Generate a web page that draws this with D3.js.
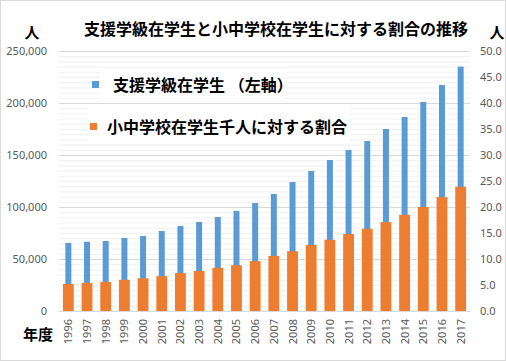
<!DOCTYPE html>
<html>
<head>
<meta charset="utf-8">
<script src="https://cdn.jsdelivr.net/npm/d3@7"></script>
<style>
  body { margin: 0; background: #fff; }
  svg { display: block; }
  .jp { font-family: "Noto Sans CJK JP", "Noto Sans", sans-serif; font-weight: bold; fill: #000; }
  .tick-label { font-family: "Noto Sans", "Liberation Sans", sans-serif; font-size: 11px; fill: #595959; }
</style>
</head>
<body>
<svg width="506" height="361"></svg>
<script>
// データ
const years = ["1996", "1997", "1998", "1999", "2000", "2001", "2002", "2003", "2004", "2005",
  "2006", "2007", "2008", "2009", "2010", "2011", "2012", "2013", "2014", "2015", "2016", "2017"];
// 支援学級在学生（人）
const students = [65400, 66600, 67300, 70200, 72100, 76900, 81700, 85600, 90400, 96200,
  103800, 112500, 124000, 134600, 145200, 154800, 163500, 175000, 186500, 201000, 217300, 235000];
// 小中学校在学生千人に対する割合
const ratio = [5.2, 5.4, 5.6, 6.0, 6.3, 6.7, 7.3, 7.7, 8.3, 8.8,
  9.6, 10.6, 11.5, 12.7, 13.7, 14.8, 15.8, 17.1, 18.5, 20.0, 21.9, 23.9];
const leftTicks = [0, 50000, 100000, 150000, 200000, 250000];
const rightTicks = [0, 5, 10, 15, 20, 25, 30, 35, 40, 45, 50];
const legendLabels = ["支援学級在学生 （左軸）", "小中学校在学生千人に対する割合"];

const svg = d3.select("svg");
const plotLeft = 59, plotRight = 470, plotTop = 51, plotBottom = 311;
const blue = "#5b9bd5", orange = "#ed7d31";

const x = d3.scaleBand().domain(years).range([plotLeft, plotRight]).paddingInner(0.42).paddingOuter(0.21);
const yL = d3.scaleLinear().domain([0, 250000]).range([plotBottom, plotTop]);
const yR = d3.scaleLinear().domain([0, 50]).range([plotBottom, plotTop]);

// 枠
svg.append("rect")
  .attr("x", 0.5).attr("y", 0.5).attr("width", 505).attr("height", 360)
  .attr("fill", "#fff").attr("stroke", "#d9d9d9");

// 補助目盛線
svg.append("g")
  .selectAll("line")
  .data(d3.range(0, 250001, 5000).filter((v) => v % 50000 !== 0))
  .join("line")
  .attr("x1", plotLeft).attr("x2", plotRight)
  .attr("y1", (d) => yL(d) + 0.5).attr("y2", (d) => yL(d) + 0.5)
  .attr("stroke", "#f0f0f0");

// 凡例の背景
svg.append("rect").attr("x", 100).attr("y", 68).attr("width", 186).attr("height", 33).attr("fill", "#fff");
svg.append("rect").attr("x", 88).attr("y", 107).attr("width", 262).attr("height", 35).attr("fill", "#fff");

// 主目盛線
svg.append("g")
  .selectAll("line")
  .data(leftTicks)
  .join("line")
  .attr("x1", plotLeft).attr("x2", plotRight)
  .attr("y1", (d) => yL(d) + 0.5).attr("y2", (d) => yL(d) + 0.5)
  .attr("stroke", "#d9d9d9");

// 棒グラフ
const bw = 6;
svg.append("g")
  .selectAll("rect")
  .data(years)
  .join("rect")
  .attr("x", (d) => x(d) + x.bandwidth() / 2 - bw / 2)
  .attr("y", (d, i) => yL(students[i]))
  .attr("width", bw)
  .attr("height", (d, i) => plotBottom - yL(students[i]))
  .attr("fill", blue);

svg.append("g")
  .selectAll("rect")
  .data(years)
  .join("rect")
  .attr("x", (d) => x(d))
  .attr("y", (d, i) => yR(ratio[i]))
  .attr("width", x.bandwidth())
  .attr("height", (d, i) => plotBottom - yR(ratio[i]))
  .attr("fill", orange);

// 軸ラベル
svg.append("g")
  .selectAll("text")
  .data(leftTicks)
  .join("text")
  .attr("class", "tick-label")
  .attr("x", 47).attr("y", (d) => yL(d)).attr("dy", "0.35em")
  .attr("text-anchor", "end")
  .text(d3.format(","));

svg.append("g")
  .selectAll("text")
  .data(rightTicks)
  .join("text")
  .attr("class", "tick-label")
  .attr("x", 480).attr("y", (d) => yR(d)).attr("dy", "0.35em")
  .text(d3.format(".1f"));

svg.append("g")
  .selectAll("text")
  .data(years)
  .join("text")
  .attr("class", "tick-label")
  .attr("text-anchor", "end")
  .attr("transform", (d) => `translate(${x(d) + x.bandwidth() / 2 + 4},319) rotate(-90)`)
  .text((d) => d);

// タイトル等
svg.append("text").attr("class", "jp").attr("x", 276).attr("y", 35)
  .attr("text-anchor", "middle").style("font-size", "16px")
  .text("支援学級在学生と小中学校在学生に対する割合の推移");
svg.append("text").attr("class", "jp").attr("x", 32).attr("y", 38)
  .attr("text-anchor", "middle").style("font-size", "15px").text("人");
svg.append("text").attr("class", "jp").attr("x", 497).attr("y", 38)
  .attr("text-anchor", "middle").style("font-size", "15px").text("人");
svg.append("text").attr("class", "jp").attr("x", 38).attr("y", 340)
  .attr("text-anchor", "middle").style("font-size", "15px").text("年度");

// 凡例
const legend = svg.append("g");
[
  { sx: 92, sy: 81, tx: 113, ty: 91, color: blue },
  { sx: 90, sy: 123, tx: 107, ty: 133, color: orange },
].forEach((p, i) => {
  legend.append("rect").attr("x", p.sx).attr("y", p.sy).attr("width", 7).attr("height", 7).attr("fill", p.color);
  legend.append("text").attr("class", "jp").attr("x", p.tx).attr("y", p.ty)
    .style("font-size", "16px").text(legendLabels[i]);
});
</script>
</body>
</html>
